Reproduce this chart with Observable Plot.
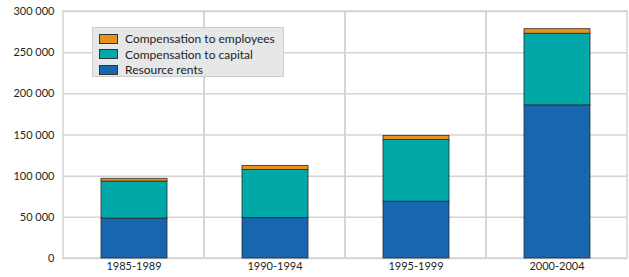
<!DOCTYPE html>
<html>
<head>
<meta charset="utf-8">
<script src="https://cdn.jsdelivr.net/npm/d3@7"></script>
<script src="https://cdn.jsdelivr.net/npm/@observablehq/plot@0.6"></script>
<style>
  html, body { margin: 0; padding: 0; background: #fff; }
  #wrap { position: relative; width: 629px; height: 277px; font-family: Lato, "Noto Sans", sans-serif; }
  #legend { position: absolute; left: 92px; top: 27px; width: 192px; height: 50px; background: #e6e7e8; border: 1px solid #cdcdcd; box-sizing: border-box; padding: 3px 0 0 6px; }
  .row { display: flex; align-items: center; height: 15.5px; font-size: 12px; color: #231f20; }
  .sw { width: 19px; height: 10px; border: 1px solid #333; margin-right: 7px; box-sizing: border-box; }
</style>
</head>
<body>
<div id="wrap"></div>
<script>
const categories = ["1985-1989", "1990-1994", "1995-1999", "2000-2004"];
const seriesNames = ["Resource rents", "Compensation to capital", "Compensation to employees"];
const resourceRents = [48500, 49000, 69000, 186000];
const compCapital = [45000, 58500, 75000, 87000];
const compEmployees = [3300, 5000, 5000, 5500];
const colors = ["#1866b0", "#00a8a8", "#e8921e"];
const yTicks = [0, 50000, 100000, 150000, 200000, 250000, 300000];

const seriesValues = [resourceRents, compCapital, compEmployees];
const rows = [];
seriesNames.forEach((s, i) => categories.forEach((c, j) => rows.push({category: c, series: s, value: seriesValues[i][j]})));

const fmt = d => d3.format(",")(d).replace(/,/g, " ");

const chart = Plot.plot({
  width: 629,
  height: 277,
  marginLeft: 62,
  marginRight: 2,
  marginTop: 11,
  marginBottom: 19,
  style: {fontFamily: "Lato, 'Noto Sans', sans-serif", fontSize: "11px", color: "#231f20", background: "#fff"},
  x: {domain: categories, padding: 0, label: null, tickSize: 0, tickPadding: 4},
  y: {domain: [0, 300000], ticks: yTicks, tickFormat: fmt, label: null, tickSize: 0, tickPadding: 8},
  color: {domain: seriesNames, range: colors},
  marks: [
    Plot.gridY(yTicks, {stroke: "#d4d4d4", strokeOpacity: 1, strokeWidth: 1.5}),
    Plot.barY(categories, {x: d => d, y1: 0, y2: 300000, fill: "none", stroke: "#d4d4d4", strokeWidth: 1.5}),
    Plot.barY(rows, Plot.stackY({
      x: "category", y: "value", fill: "series", order: seriesNames,
      stroke: "#2a2a2a", strokeWidth: 0.8, insetLeft: 38, insetRight: 37
    })),
    Plot.axisX({tickSize: 0, tickPadding: 4, label: null}),
    Plot.axisY({ticks: yTicks, tickFormat: fmt, tickSize: 0, tickPadding: 8, label: null})
  ]
});

const wrap = document.getElementById("wrap");
wrap.appendChild(chart);

const legend = document.createElement("div");
legend.id = "legend";
[...seriesNames].reverse().forEach(name => {
  const r = document.createElement("div");
  r.className = "row";
  const sw = document.createElement("div");
  sw.className = "sw";
  sw.style.background = colors[seriesNames.indexOf(name)];
  const t = document.createElement("span");
  t.textContent = name;
  r.appendChild(sw);
  r.appendChild(t);
  legend.appendChild(r);
});
wrap.appendChild(legend);
</script>
</body>
</html>
